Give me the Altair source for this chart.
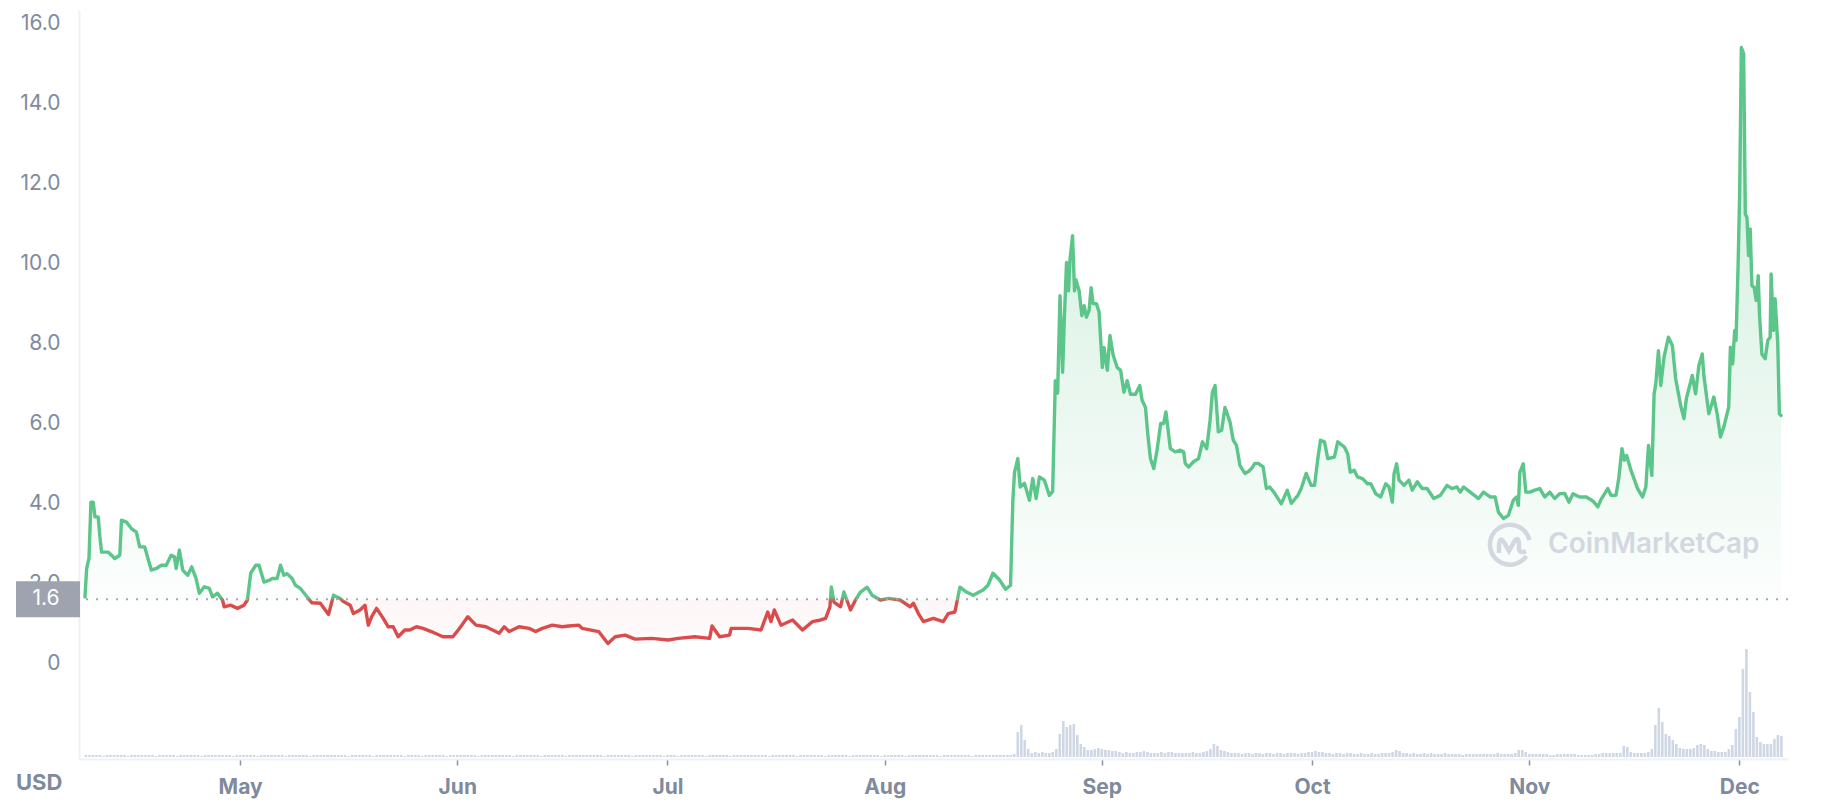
import altair as alt
import pandas as pd

START = "2021-04-08"
BASE = 1.6
GREEN = "#5cc58a"
RED = "#db4b4b"
GREY_TXT = "#808a9d"
GRID = "#eff2f5"

# ---------- price trace: days since START, price in USD ----------
seg_a_days = [0.86, 1.10, 1.43, 1.71, 2.04, 2.28, 2.75, 2.99, 3.23, 4.17,
              5.12, 5.83, 6.07, 6.78, 7.49, 8.2, 8.67, 9.38, 9.85, 10.33,
              11.04, 11.75, 12.46, 13.16, 13.63, 13.87, 14.34, 14.81, 15.52, 16.09,
              16.71, 17.18, 17.89, 18.6, 19.07, 19.78, 20.49, 20.73, 21.68, 22.62,
              23.57, 24.04, 24.52, 25.23, 25.7, 26.41, 27.11, 27.59, 28.29, 28.77,
              29.24, 29.71, 30.42, 30.9, 31.61, 32.55, 33.26, 34.45, 35.63, 36.34,
              37.29, 37.76, 38.71, 39.18, 40.12, 40.83, 41.3, 41.77, 42.48, 43.43,
              44.14, 44.85, 45.56, 46.51, 47.22, 48.16, 49.11, 50.29, 51.95, 53.37,
              54.32, 55.5, 56.67, 58.09, 59.99, 60.7, 61.41, 62.83, 64.25, 65.19,
              66.14, 67.56, 68.98]
seg_a_price = [1.66, 2.37, 2.62, 4.03, 4.03, 3.66, 3.66, 3.16, 2.78, 2.78,
               2.62, 2.70, 3.58, 3.53, 3.37, 3.28, 2.91, 2.91, 2.62, 2.33,
               2.37, 2.45, 2.45, 2.70, 2.66, 2.37, 2.83, 2.33, 2.20, 2.41,
               2.12, 1.75, 1.91, 1.87, 1.66, 1.75, 1.58, 1.41, 1.45, 1.37,
               1.45, 1.58, 2.25, 2.45, 2.45, 2.03, 2.07, 2.12, 2.12, 2.45,
               2.20, 2.24, 2.12, 1.95, 1.87, 1.66, 1.51, 1.50, 1.22, 1.70,
               1.62, 1.54, 1.45, 1.24, 1.33, 1.45, 0.95, 1.16, 1.37, 1.12,
               0.91, 0.91, 0.66, 0.83, 0.83, 0.91, 0.87, 0.79, 0.66, 0.66,
               0.87, 1.16, 0.95, 0.91, 0.75, 0.91, 0.79, 0.91, 0.87, 0.79,
               0.87, 0.95, 0.91]

seg_b_days = [69.92, 71.35, 71.82, 74.18, 75.5, 76.54, 77.96, 79.38, 81.75, 84.12, 85.54,
              87.89, 90.02, 90.36, 91.44, 92.86, 93.1, 95.47, 97.36, 98.31, 98.78,
              99.25, 100.2, 101.86, 103.28, 104.7, 105.87, 106.58, 107.19, 107.39, 107.76,
              108.71, 109.18, 110.13, 110.84, 111.55, 112.5, 113.21, 114.39, 115.56, 117.22,
              118.64, 119.11, 119.82, 120.53, 121.95, 123.37, 124.08, 125.03, 125.74, 126.69,
              127.63, 129.05, 129.75, 130.46, 131.41, 132.26, 132.97]
seg_b_price = [0.93, 0.95, 0.87, 0.79, 0.49, 0.66, 0.70, 0.60, 0.62, 0.58, 0.62,
               0.66, 0.62, 0.93, 0.66, 0.70, 0.87, 0.87, 0.83, 1.28, 1.04,
               1.33, 0.95, 1.08, 0.83, 1.04, 1.08, 1.12, 1.41, 1.91, 1.53,
               1.41, 1.78, 1.33, 1.58, 1.78, 1.90, 1.70, 1.58, 1.62, 1.58,
               1.41, 1.50, 1.24, 1.04, 1.12, 1.04, 1.24, 1.28, 1.90, 1.78,
               1.70, 1.83, 1.95, 2.25, 2.08, 1.85, 1.95]

seg_c_days = [133.3, 133.54, 134.01, 134.35, 134.96, 135.67, 136.14, 136.62, 137.09, 137.8,
              138.51, 138.98, 139.36, 139.69, 140.03, 140.4, 140.64, 140.96, 141.25, 141.44,
              141.82, 142.1, 142.29, 142.76, 143.15, 143.48, 143.8, 144.18, 144.47, 144.75,
              145.22, 145.6, 146.07, 146.31, 146.78, 147.16, 147.63, 148.2, 148.68, 149.15,
              149.62, 150.1, 150.81, 151.42, 151.75, 152.23, 152.6, 152.94, 153.41, 153.88,
              154.4, 154.83, 155.15, 155.78, 156.49, 157.2, 157.67, 157.91, 158.38, 159.09,
              159.8, 160.36, 160.97, 161.45, 161.78, 162.16, 162.63, 163.1, 163.58, 164.29,
              164.76, 165.23, 165.71, 166.42, 166.89, 167.36, 167.84, 168.31, 169.02, 169.49,
              169.97, 170.68, 171.15, 171.62, 172.47, 173.04, 173.99, 174.46, 175.17, 175.88,
              176.36, 176.83, 177.21, 177.78, 178.25, 179.2, 179.67, 180.62, 181.09]
seg_c_price = [4.08, 4.78, 5.12, 4.41, 4.50, 4.08, 4.62, 4.12, 4.66, 4.58,
               4.20, 4.30, 7.07, 6.76, 9.20, 7.28, 8.57, 10.03, 9.32, 10.07,
               10.70, 9.32, 9.60, 9.32, 8.70, 8.95, 8.66, 8.83, 9.40, 9.00,
               9.00, 8.80, 7.40, 7.90, 7.33, 8.20, 7.70, 7.40, 7.33, 6.78,
               7.07, 6.73, 6.73, 6.95, 6.58, 6.40, 5.66, 5.12, 4.87, 5.33,
               6.00, 6.00, 6.29, 5.37, 5.29, 5.33, 5.29, 5.00, 4.91, 5.04,
               5.12, 5.54, 5.37, 6.08, 6.78, 6.95, 5.79, 5.83, 6.40, 6.04,
               5.58, 5.45, 4.95, 4.75, 4.79, 4.87, 5.00, 5.00, 4.91, 4.37,
               4.41, 4.25, 4.12, 3.99, 4.33, 4.00, 4.20, 4.37, 4.75, 4.45,
               4.45, 5.12, 5.58, 5.54, 5.12, 5.16, 5.54, 5.41, 5.24]

seg_d_days = [181.46, 182.03, 182.5, 183.21, 183.92, 184.39, 185.1, 185.81, 186.52, 187.0,
              187.47, 187.71, 188.08, 188.42, 189.13, 189.84, 190.31, 191.02, 191.73, 192.43,
              193.38, 194.32, 195.27, 195.98, 196.69, 197.16, 197.64, 198.58, 199.77, 200.48,
              201.42, 202.13, 202.61, 203.32, 204.03, 204.74, 205.21, 205.45, 205.67, 206.15,
              206.52, 207.09, 207.8, 208.51, 209.22, 209.93, 210.64, 211.35, 212.06, 212.68,
              213.25, 214.19, 215.14, 216.09, 216.8, 217.26, 218.21, 218.68, 219.39, 219.78,
              220.24, 220.57, 220.91, 221.52, 222.47, 223.18, 223.65, 224.03, 224.5, 224.83,
              225.07, 225.45, 225.78, 226.25, 226.87, 227.44, 227.91, 228.62, 229.09, 229.43,
              230.28, 230.75, 231.22, 231.7, 231.93, 232.64, 233.35, 233.83, 234.3, 234.77,
              235.48, 235.72, 236.04, 236.33]
seg_d_price = [4.78, 4.83, 4.66, 4.62, 4.49, 4.49, 4.24, 4.16, 4.49, 4.41,
               4.03, 4.74, 4.99, 4.58, 4.45, 4.58, 4.33, 4.54, 4.37, 4.37,
               4.12, 4.20, 4.45, 4.37, 4.41, 4.28, 4.41, 4.28, 4.12, 4.28,
               4.16, 4.16, 3.78, 3.62, 3.70, 4.08, 4.16, 3.95, 4.78, 4.99,
               4.28, 4.28, 4.33, 4.37, 4.16, 4.28, 4.12, 4.24, 4.25, 4.03,
               4.24, 4.16, 4.16, 4.06, 3.91, 4.10, 4.37, 4.20, 4.20, 4.62,
               5.37, 5.08, 5.20, 4.83, 4.37, 4.16, 4.41, 5.45, 4.70, 6.74,
               6.99, 7.82, 6.95, 7.66, 8.16, 7.95, 7.12, 6.45, 6.12, 6.62,
               7.20, 6.74, 7.45, 7.74, 7.20, 6.24, 6.66, 6.24, 5.66, 5.91,
               6.41, 7.91, 7.49, 8.33]

seg_e_days = [236.52, 236.81, 237.04, 237.28, 237.61, 237.85, 238.09, 238.31, 238.55, 238.79,
              239.12, 239.4, 239.69, 239.87, 240.21, 240.68, 241.06, 241.39, 241.53, 241.86,
              242.1, 242.48, 242.71, 242.95]
seg_e_price = [8.08, 9.90, 11.74, 15.41, 15.25, 11.24, 11.15, 10.20, 10.87, 9.45,
               9.40, 9.08, 9.70, 8.74, 7.74, 7.62, 8.08, 8.16, 9.74, 8.33,
               9.12, 7.99, 6.24, 6.20]

# ---------- volume bars, one every 12 h from 2021-04-09 (relative bar heights) ----------
vol_apr_aug = [2, 2, 2, 2, 2, 1, 2, 2, 2, 2, 2, 2, 1, 2, 2, 2, 2, 2, 2, 2, 1, 2, 2, 2,
               2, 2, 1, 2, 2, 2, 2, 2, 2, 1, 2, 2, 2, 2, 2, 2, 2, 2, 1, 2, 2, 2, 2, 2,
               2, 1, 2, 2, 2, 2, 2, 2, 2, 1, 2, 2, 2, 2, 2, 2, 1, 2, 2, 2, 2, 2, 2, 2,
               2, 2, 2, 1, 2, 2, 2, 2, 2, 2, 1, 2, 2, 2, 2, 2, 2, 2, 2, 1, 2, 2, 2, 2,
               1, 2, 2, 2, 2, 2, 2, 1, 2, 2, 2, 2, 2, 2, 2, 2, 1, 2, 2, 2, 2, 2, 2, 2,
               2, 2, 1, 2, 2, 2, 2, 2, 2, 2, 1, 2, 2, 2, 2, 2, 2, 1, 2, 2, 2, 2, 2, 2,
               2, 2, 2, 2, 1, 2, 2, 2, 2, 2, 2, 2, 1, 2, 2, 2, 2, 2, 2, 2, 2, 1, 2, 2,
               2, 1, 2, 2, 2, 2, 2, 2, 2, 1, 2, 2, 2, 2, 2, 2, 1, 2, 2, 2, 2, 2, 2, 2,
               2, 2, 2, 1, 2, 2, 2, 2, 2, 2, 2, 1, 2, 2, 2, 2, 2, 2, 2, 1, 2, 2, 2, 2,
               2, 2, 1, 2, 2, 2, 2, 2, 2, 2, 2, 1, 2, 2, 2, 2, 2, 2, 1, 2, 2, 2, 2, 2,
               2, 2, 2, 2, 1, 2, 2, 2, 2, 2, 2, 2, 2, 1, 2, 2, 2, 2, 2, 2, 2, 2, 2, 2]
vol_aug_dec = [2, 3, 25, 32, 17, 8, 4, 5, 4, 5, 4, 4, 5, 8, 23, 36, 30, 32, 33, 22, 13, 10, 7, 7,
               8, 9, 8, 7, 7, 6, 6, 5, 4, 5, 4, 4, 5, 5, 6, 5, 4, 4, 4, 5, 4, 5, 5, 4,
               4, 4, 4, 4, 5, 4, 4, 5, 6, 8, 13, 11, 7, 6, 5, 4, 4, 4, 3, 4, 4, 3, 4, 4,
               3, 4, 4, 3, 4, 4, 3, 4, 4, 4, 3, 4, 4, 5, 5, 6, 5, 5, 4, 4, 3, 4, 4, 3,
               4, 4, 3, 3, 4, 3, 3, 4, 3, 3, 4, 4, 4, 5, 7, 6, 4, 4, 3, 4, 3, 3, 4, 3,
               4, 3, 3, 3, 4, 3, 3, 3, 3, 2, 3, 3, 3, 3, 3, 3, 3, 3, 3, 4, 3, 3, 3, 3,
               4, 7, 7, 5, 3, 3, 3, 3, 3, 3, 2, 2, 3, 3, 3, 3, 3, 3, 2, 2, 2, 2, 2, 3,
               3, 4, 4, 4, 4, 4, 4, 11, 10, 5, 4, 4, 4, 4, 5, 8, 32, 49, 35, 23, 21, 17, 13, 9,
               8, 8, 8, 9, 12, 13, 12, 8, 6, 6, 5, 5, 5, 8, 12, 28, 40, 88, 108, 65, 45, 20, 15, 13,
               13, 13, 18, 22, 21]

days = seg_a_days + seg_b_days + seg_c_days + seg_d_days + seg_e_days
prices = seg_a_price + seg_b_price + seg_c_price + seg_d_price + seg_e_price
price_df = pd.DataFrame({
    "date": (pd.Timestamp(START) + pd.to_timedelta(days, unit="D")).round("min"),
    "price": prices,
})
volumes = vol_apr_aug + vol_aug_dec
vol_df = pd.DataFrame({
    "date": pd.date_range("2021-04-09", periods=len(volumes), freq="12h"),
    "volume": volumes,
})

# gradient split at the 1.6 baseline (fraction of the price span)
pmax, pmin = max(prices), min(prices)
off = (pmax - BASE) / (pmax - pmin)


def stop(color, offset):
    return alt.GradientStop(color=color, offset=offset)


line_stroke = alt.LinearGradient(
    gradient="linear", x1=0, x2=0, y1=0, y2=1,
    stops=[stop(GREEN, 0), stop(GREEN, off - 0.004), stop(RED, off + 0.004), stop(RED, 1)],
)
area_fill = alt.LinearGradient(
    gradient="linear", x1=0, x2=0, y1=0, y2=1,
    stops=[stop("rgba(92,197,138,0.32)", 0), stop("rgba(92,197,138,0.02)", off),
           stop("rgba(219,75,75,0.05)", off + 0.001), stop("rgba(219,75,75,0.02)", 1)],
)

W, H = 1709, 749

x_enc = alt.X(
    "date:T",
    title=None,
    scale=alt.Scale(domain=[alt.DateTime(year=2021, month=4, date=8, hours=17, minutes=17),
                            alt.DateTime(year=2021, month=12, date=7, hours=5, minutes=27)],
                    nice=False),
    axis=alt.Axis(
        values=[alt.DateTime(year=2021, month=m, date=1) for m in range(5, 13)],
        format="%b", grid=False,
        labelFont="Inter", labelFontSize=21, labelFontWeight="bold", labelColor=GREY_TXT,
        tickColor="#8a93a6", tickSize=6, tickWidth=1.5, labelPadding=11,
        domainColor=GRID, domainWidth=2,
    ),
)
y_enc = alt.Y(
    "price:Q",
    title=None,
    scale=alt.Scale(domain=[-2.4, 16.35], nice=False, zero=False),
    axis=alt.Axis(
        values=list(range(-2, 17, 2)),
        labelExpr="datum.value < 0 ? '' : (datum.value == 0 ? '0' : format(datum.value, '.1f'))",
        labelFont="Inter", labelFontSize=21, labelColor=GREY_TXT,
        tickSize=0, labelPadding=19,
        domainColor=GRID, domainWidth=2,
        gridColor=GRID, gridWidth=1.5,
    ),
)

volume = alt.Chart(vol_df).mark_bar(color="#cfd6e4", width=2.6).encode(
    x=x_enc,
    y=alt.Y("volume:Q", scale=alt.Scale(domain=[-2, 747], nice=False, zero=False), axis=None),
)

area = alt.Chart(price_df).mark_area(fill=area_fill, interpolate="linear").encode(
    x=x_enc, y=y_enc, y2=alt.datum(BASE)
)
line = alt.Chart(price_df).mark_line(
    stroke=line_stroke, strokeWidth=3.4, strokeJoin="round", strokeCap="round"
).encode(x=x_enc, y=y_enc)

label_df = pd.DataFrame({"label": ["1.6"]})
base_rule = alt.Chart(label_df).mark_rule(
    stroke="#a3a7b2", strokeDash=[2, 8], strokeWidth=2
).encode(y=alt.datum(BASE))
base_box = alt.Chart(label_df).mark_rect(color="#9ea3af").encode(
    x=alt.value(-63), x2=alt.value(1), y=alt.datum(BASE + 0.45), y2=alt.datum(BASE - 0.45)
)
base_text = alt.Chart(label_df).mark_text(
    color="white", font="Inter", fontSize=21, align="center", baseline="middle"
).encode(x=alt.value(-33), y=alt.datum(BASE), text="label:N")

price_layers = alt.layer(area, line, base_rule, base_box, base_text)

usd = alt.Chart(pd.DataFrame({"t": ["USD"]})).mark_text(
    font="Inter", fontSize=22, fontWeight="bold", color=GREY_TXT, align="left", baseline="middle"
).encode(x=alt.value(-63), y=alt.value(773), text="t:N")

logo_path = ("M0.82,0.55 A1,1 0 1,1 0.97,-0.25 "
             "M-0.55,0.4 L-0.55,0.0 Q-0.5,-0.5 -0.28,-0.1 L-0.05,0.3 "
             "L0.2,-0.15 Q0.42,-0.5 0.45,-0.05 L0.45,0.2 Q0.5,0.45 0.8,0.3")
logo = alt.Chart(pd.DataFrame({"t": ["logo"]})).mark_point(
    shape=logo_path, size=1600, filled=False, strokeWidth=4.5, color="#d3d8e0", opacity=1
).encode(x=alt.value(1431), y=alt.value(535))
wordmark = alt.Chart(pd.DataFrame({"t": ["CoinMarketCap"]})).mark_text(
    font="Inter", fontSize=28, fontWeight=600, color="#d3d8e0", align="left", baseline="middle"
).encode(x=alt.value(1469), y=alt.value(535), text="t:N")

chart = alt.layer(volume, price_layers, usd, logo, wordmark).resolve_scale(
    y="independent"
).properties(
    width=W, height=H,
    padding={"left": 71, "top": 2, "right": 31, "bottom": 41},
    autosize=alt.AutoSizeParams(type="none"),
    background="white",
).configure_view(stroke=None)

chart.save("out.html", embed_options={"renderer": "svg", "actions": False})
